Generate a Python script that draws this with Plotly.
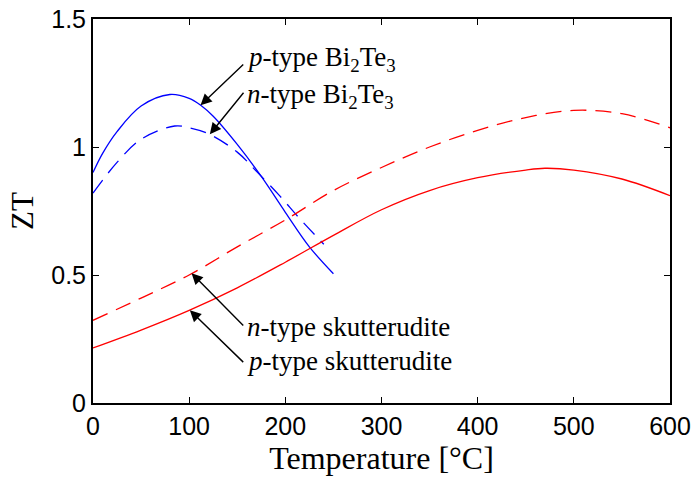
import plotly.graph_objects as go

# p-type Bi2Te3 (blue solid)
t_p_bi = [0, 10, 25, 50, 80, 100, 112, 125, 150, 175, 200, 225, 250]
zt_p_bi = [0.90, 0.975, 1.06, 1.16, 1.205, 1.19, 1.163, 1.12, 1.01, 0.885, 0.745, 0.61, 0.505]
# n-type Bi2Te3 (blue dashed)
t_n_bi = [0, 25, 50, 85, 100, 121, 150, 170, 194, 215, 240]
zt_n_bi = [0.82, 0.94, 1.03, 1.082, 1.075, 1.05, 0.98, 0.905, 0.81, 0.72, 0.62]
# p-type skutterudite (red solid)
t_p_sk = [0, 50, 100, 150, 200, 250, 300, 350, 400, 450, 470, 500, 550, 600]
zt_p_sk = [0.215, 0.285, 0.362, 0.45, 0.55, 0.655, 0.755, 0.83, 0.88, 0.91, 0.917, 0.91, 0.875, 0.81]
# n-type skutterudite (red dashed)
t_n_sk = [0, 50, 100, 150, 200, 250, 300, 350, 400, 450, 500, 550, 600]
zt_n_sk = [0.323, 0.41, 0.50, 0.61, 0.715, 0.83, 0.92, 1.0, 1.065, 1.115, 1.143, 1.13, 1.075]

x_ticks = [0, 100, 200, 300, 400, 500, 600]
y_ticks = [0, 0.5, 1, 1.5]
y_tick_labels = ["0", "0.5", "1", "1.5"]

labels = ["<i>p</i>-type Bi<sub>2</sub>Te<sub>3</sub>",
          "<i>n</i>-type Bi<sub>2</sub>Te<sub>3</sub>",
          "<i>n</i>-type skutterudite",
          "<i>p</i>-type skutterudite"]
# arrow tips (data coords), arrow tails, text anchors
tips = [(111.8, 1.163), (121.5, 1.05), (102.5, 0.507), (100.7, 0.362)]
tails = [(157.8, 1.328), (157.8, 1.218), (157.8, 0.297), (157.8, 0.154)]
text_pos = [(158.5, 1.345), (158.5, 1.2), (158.5, 0.296), (158.5, 0.165)]

fig = go.Figure()
lw = 1.3
fig.add_trace(go.Scatter(x=t_p_bi, y=zt_p_bi, mode="lines", line=dict(color="#0000ff", width=lw, shape="spline")))
fig.add_trace(go.Scatter(x=t_n_bi, y=zt_n_bi, mode="lines", line=dict(color="#0000ff", width=lw, dash="16px,9px", shape="spline")))
fig.add_trace(go.Scatter(x=t_p_sk, y=zt_p_sk, mode="lines", line=dict(color="#ff0000", width=lw, shape="spline")))
fig.add_trace(go.Scatter(x=t_n_sk, y=zt_n_sk, mode="lines", line=dict(color="#ff0000", width=lw, dash="16px,9px", shape="spline")))

serif = "Times New Roman, Liberation Serif, serif"
annotations = []
for lab, tip, tail, tp in zip(labels, tips, tails, text_pos):
    annotations.append(dict(x=tip[0], y=tip[1], ax=tail[0], ay=tail[1], xref="x", yref="y",
                            axref="x", ayref="y", text="", showarrow=True, arrowhead=2,
                            arrowsize=1.6, arrowwidth=1.4, arrowcolor="black"))
    annotations.append(dict(x=tp[0], y=tp[1], xref="x", yref="y", text=lab, showarrow=False,
                            xanchor="left", yanchor="middle",
                            font=dict(family=serif, size=27, color="black")))

axis_common = dict(showline=True, linecolor="black", linewidth=2, mirror="ticks",
                   ticks="inside", ticklen=6, tickwidth=1, tickcolor="black",
                   showgrid=False, zeroline=False, automargin=False,
                   tickfont=dict(family="Arial, Liberation Sans", size=25, color="black"))

fig.update_layout(
    width=693, height=480,
    margin=dict(l=93, r=23, t=19, b=77),
    paper_bgcolor="white", plot_bgcolor="white",
    showlegend=False,
    annotations=annotations,
    xaxis=dict(range=[0, 600], tickvals=x_ticks, ticktext=[str(v) for v in x_ticks],
               title=dict(text="Temperature [°C]", font=dict(family=serif, size=32, color="black"), standoff=2),
               **axis_common),
    yaxis=dict(range=[0, 1.5], tickvals=y_ticks, ticktext=y_tick_labels,
               title=dict(text="ZT", font=dict(family=serif, size=31, color="black"), standoff=8),
               **axis_common),
)

fig.write_html("out.html")
